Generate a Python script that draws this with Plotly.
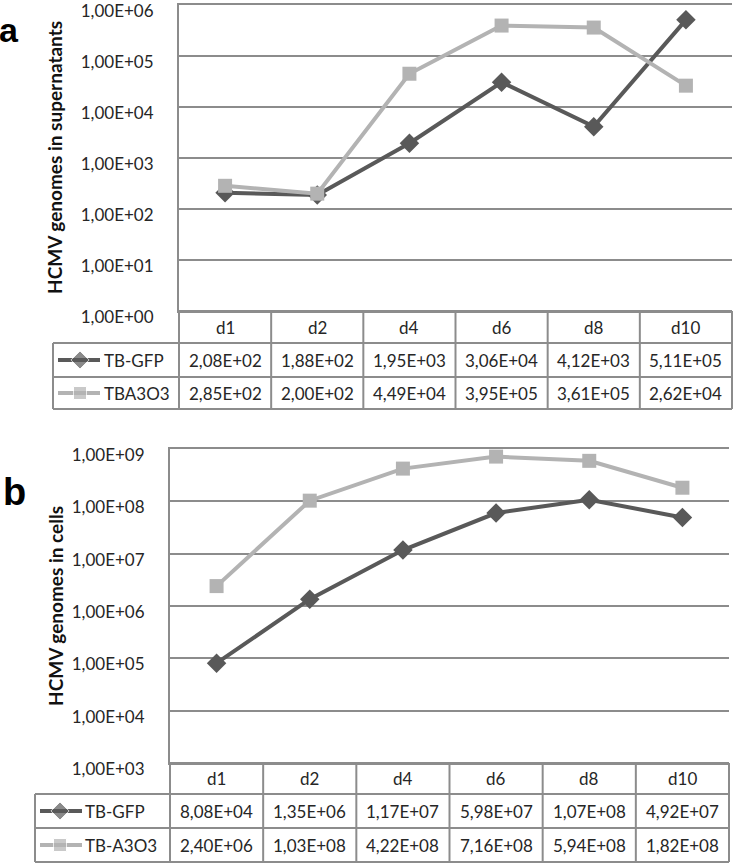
import plotly.graph_objects as go

# ---------------- data ----------------
days = ["d1", "d2", "d4", "d6", "d8", "d10"]

sup_names = ["TB-GFP", "TBA3O3"]
sup_gfp = [2.08e2, 1.88e2, 1.95e3, 3.06e4, 4.12e3, 5.11e5]
sup_a3o3 = [2.85e2, 2.00e2, 4.49e4, 3.95e5, 3.61e5, 2.62e4]

cell_names = ["TB-GFP", "TB-A3O3"]
cell_gfp = [8.08e4, 1.35e6, 1.17e7, 5.98e7, 1.07e8, 4.92e7]
cell_a3o3 = [2.40e6, 1.03e8, 4.22e8, 7.16e8, 5.94e8, 1.82e8]

sup_ticks = [1e0, 1e1, 1e2, 1e3, 1e4, 1e5, 1e6]
cell_ticks = [1e3, 1e4, 1e5, 1e6, 1e7, 1e8, 1e9]

sup_title = "HCMV genomes in supernatants"
cell_title = "HCMV genomes in cells"

# ---------------- styles ----------------
W, H = 733, 864
DARK = "#595959"
LIGHT = "#b3b3b3"
GRID = "#8c8c8c"
TXT = "#262626"
FONT = "Lato"


def px(x):
    return x / W


def py(y):
    return 1 - y / H


def fmt(v):
    return f"{v:.2E}".replace(".", ",")


fig = go.Figure()

panels = [
    dict(xa="x", ya="y", xname="xaxis", yname="yaxis",
         left=179, right=732, top=5, bottom=311, lab_left=53,
         rows=[311, 343, 377, 409], yr=[0, 6], ticks=sup_ticks,
         names=sup_names, series=[sup_gfp, sup_a3o3], title=sup_title,
         title_y=158, sw=(58, 80, 100), txt_x=102, letter="a",
         letter_xy=(9, 30), letter_size=34),
    dict(xa="x2", ya="y2", xname="xaxis2", yname="yaxis2",
         left=170, right=729, top=449, bottom=763, lab_left=35,
         rows=[763, 794, 828, 862], yr=[3, 9], ticks=cell_ticks,
         names=cell_names, series=[cell_gfp, cell_a3o3], title=cell_title,
         title_y=606, sw=(40, 60, 82), txt_x=83, letter="b",
         letter_xy=(14, 492), letter_size=38),
]

colors = [DARK, LIGHT]
symbols = ["diamond", "square"]
msizes = [15, 14]

shapes = []
annotations = []


def ann(**kw):
    kw.setdefault("showarrow", False)
    kw.setdefault("xanchor", "center")
    kw.setdefault("yanchor", "middle")
    annotations.append(kw)


for p in panels:
    # data traces
    for name, vals, c, s, ms in zip(p["names"], p["series"], colors, symbols, msizes):
        fig.add_trace(go.Scatter(
            x=days, y=vals, name=name, mode="lines+markers",
            xaxis=p["xa"], yaxis=p["ya"],
            line=dict(color=c, width=4),
            marker=dict(symbol=s, size=ms, color=c),
            showlegend=False, cliponaxis=False,
        ))

    fig.update_layout(**{
        p["xname"]: dict(
            domain=[px(p["left"]), px(p["right"])],
            type="category", range=[-0.5, 5.5], automargin=False,
            showticklabels=False, showgrid=False, zeroline=False,
            showline=True, mirror=True, linecolor=GRID, linewidth=2,
            anchor=p["ya"],
        ),
        p["yname"]: dict(
            domain=[py(p["bottom"]), py(p["top"])],
            type="log", range=p["yr"], automargin=False,
            tickvals=p["ticks"], ticktext=[fmt(t) for t in p["ticks"]],
            ticks="", ticklabelstandoff=20, ticklabeloverflow="allow",
            ticklabelshift=6,
            tickfont=dict(family=FONT, size=17, color=TXT),
            showgrid=True, gridcolor=GRID, gridwidth=2,
            showline=True, linecolor=GRID, linewidth=2, zeroline=False,
            anchor=p["xa"],
        ),
    })

    # table grid
    L, R, lab = p["left"], p["right"], p["lab_left"]
    r0, r1, r2, r3 = p["rows"]
    line = dict(color=GRID, width=2)
    shapes.append(dict(type="line", xref="paper", yref="paper",
                       x0=px(L), x1=px(R), y0=py(r0), y1=py(r0), line=line))
    for y in (r1, r2, r3):
        shapes.append(dict(type="line", xref="paper", yref="paper",
                           x0=px(lab), x1=px(R), y0=py(y), y1=py(y), line=line))
    cw = (R - L) / len(days)
    for k in range(len(days) + 1):
        x = L + k * cw
        shapes.append(dict(type="line", xref="paper", yref="paper",
                           x0=px(x), x1=px(x), y0=py(r0), y1=py(r3), line=line))
    shapes.append(dict(type="line", xref="paper", yref="paper",
                       x0=px(lab), x1=px(lab), y0=py(r1), y1=py(r3), line=line))

    # header labels (placed by category axis)
    for d in days:
        ann(x=d, xref=p["xa"], y=py((r0 + r1) / 2), yref="paper", text=d,
            font=dict(family=FONT, size=17, color=TXT))
    # value cells
    for (rt, rb), vals in zip([(r1, r2), (r2, r3)], p["series"]):
        for d, v in zip(days, vals):
            ann(x=d, xref=p["xa"], y=py((rt + rb) / 2), yref="paper", text=fmt(v),
                font=dict(family=FONT, size=17, color=TXT))
    # row labels + swatches
    for (rt, rb), name, c, s, ms in zip([(r1, r2), (r2, r3)], p["names"], colors, symbols, msizes):
        yc = (rt + rb) / 2
        ann(x=px(p["txt_x"]), y=py(yc), xref="paper", yref="paper",
            xanchor="left", text=name,
            font=dict(family=FONT, size=17, color=TXT))
        a, m, b = p["sw"]
        fig.add_trace(go.Scatter(
            x=[a, m, b], y=[yc, yc, yc], mode="lines+markers",
            xaxis="x3", yaxis="y3",
            line=dict(color=c, width=4),
            marker=dict(symbol=s, size=[0, ms - 1, 0], color=c),
            showlegend=False, hoverinfo="skip",
        ))

    # y title
    ann(x=px(55), y=py(p["title_y"]), xref="paper", yref="paper",
        text="<b>" + p["title"] + "</b>", textangle=-90,
        font=dict(family=FONT, size=19, color="#111111"))
    # panel letter
    lx, ly = p["letter_xy"]
    ann(x=px(lx), y=py(ly), xref="paper", yref="paper",
        text="<b>" + p["letter"] + "</b>",
        font=dict(family="Liberation Sans", size=p["letter_size"], color="#000000"))

fig.update_layout(
    width=W, height=H,
    margin=dict(l=0, r=0, t=0, b=0, pad=0, autoexpand=False),
    paper_bgcolor="white", plot_bgcolor="rgba(0,0,0,0)",
    xaxis3=dict(domain=[0, 1], range=[0, W], visible=False, anchor="y3", automargin=False),
    yaxis3=dict(domain=[0, 1], range=[H, 0], visible=False, anchor="x3", automargin=False),
    shapes=shapes,
    annotations=annotations,
    showlegend=False,
)

fig.write_html(
    "out.html",
    config={"displayModeBar": False},
    post_script="document.body.style.margin='0';document.body.style.overflow='hidden';",
)
